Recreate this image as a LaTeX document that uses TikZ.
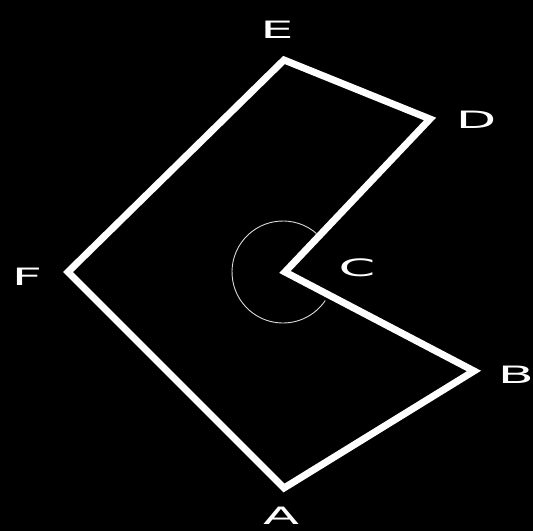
\documentclass[tikz,border=0pt]{standalone}
\usepackage{fontspec}
\setmainfont{DejaVu Sans}
\usepackage{tikz}

\begin{document}
\begin{tikzpicture}[x=1bp,y=1bp]
\tikzstyle{every node}=[text=white,font=\fontsize{24}{24}\selectfont,xscale=2.2,inner sep=0pt]
\tikzstyle{side}=[draw=white,line width=7bp,line join=miter]
\fill[black] (0,0) rectangle (533,531);
\useasboundingbox (0,0) rectangle (533,531);
\coordinate (A) at (284,43);
\coordinate (B) at (474,160);
\coordinate (C) at (285,259);
\coordinate (D) at (430,412);
\coordinate (E) at (284,471);
\coordinate (F) at (68,259);
\draw[side] (A) -- (B) -- (C) -- (D) -- (E) -- (F) -- cycle;
\draw[white!85!black,line width=0.9bp] (C) ++(-2,0) ++(49:51) arc[start angle=49,end angle=326,radius=51];
\node (lA) at (281,15) {A};
\node (lB) at (516,156) {B};
\node (lC) at (357,263) {C};
\node (lD) at (476,411) {D};
\node (lE) at (277,501) {E};
\node (lF) at (27,254) {F};
\end{tikzpicture}
\end{document}
